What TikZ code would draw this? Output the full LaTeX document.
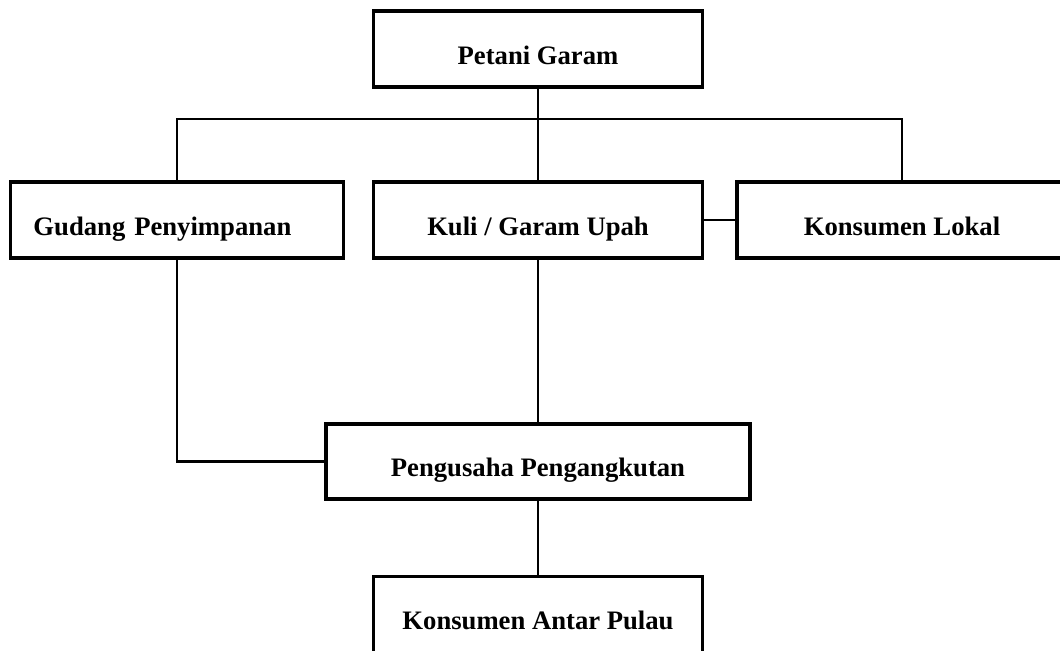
\documentclass[tikz,border=0pt]{standalone}
\usepackage{fontspec}
\setmainfont{Liberation Serif}
\begin{document}
\begin{tikzpicture}[x=0.75pt, y=-0.75pt,
  box/.style={draw, line width=2.5pt, minimum width=246.75pt, minimum height=57pt,
    inner sep=0pt, text height=22.5pt, text depth=0pt,
    font=\fontsize{20}{24}\selectfont\bfseries},
  link/.style={line width=1.6pt}]
\useasboundingbox (0,0) rectangle (1060,650);
\node[box] (petani) at (538,49) {Petani Garam};
\node[box, minimum width=249.75pt, text width=215.25pt, align=left, inner xsep=17.25pt] (gudang) at (177,220) {Gudang Penyimpanan};
\node[box] (kuli) at (538,220) {Kuli / Garam Upah};
\node[box, minimum width=247.5pt] (lokal) at (902,220) {Konsumen Lokal};
\node[box, minimum width=318pt, minimum height=56.25pt] (pengusaha) at (538,461.5) {Pengusaha Pengangkutan};
\node[box] (antar) at (538,614.5) {Konsumen Antar Pulau};
\coordinate (bus) at (538,119);
\draw[link] (petani.south) -- (kuli.north);
\draw[link] (gudang.north) |- (bus) -| (lokal.north);
\draw[link] (kuli.east) -- (lokal.west);
\draw[link] (kuli.south) -- (pengusaha.north);
\draw[link] (gudang.south) |- (pengusaha.west);
\draw[link] (pengusaha.south) -- (antar.north);
\end{tikzpicture}
\end{document}
